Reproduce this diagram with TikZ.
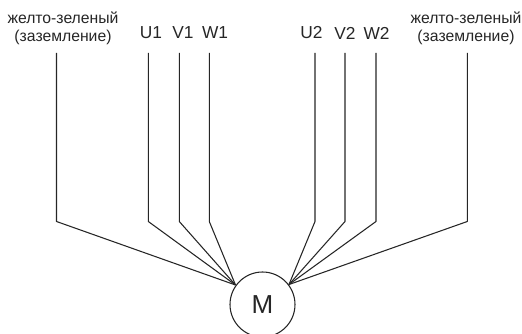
\documentclass[tikz,border=0pt]{standalone}
\usepackage{fontspec}
\setmainfont{Liberation Sans}
\tikzset{
  wire/.style={draw=black!85,line width=0.8pt,line join=round},
  lab/.style={text=black!85,font=\fontsize{11.8}{13.8}\selectfont,inner sep=0pt,align=center},
  lab2/.style={text=black!85,font=\fontsize{13}{15}\selectfont,inner sep=0pt},
  motor/.style={circle,draw=black!85,line width=0.8pt,minimum size=48.75pt,inner sep=0pt,text=black!85,font=\fontsize{19.5}{21}\selectfont}
}
\begin{document}
\begin{tikzpicture}[x=0.75pt,y=-0.75pt]
\useasboundingbox (0,0) rectangle (522,334);
\node[motor] (m) at (262.5,304.5) {M};
\coordinate (jl) at (235.5,285);
\coordinate (jr) at (289,284.5);
\node[lab] (g1) at (63,28.5) {желто-зеленый\\(заземление)};
\node[lab2] (u1) at (151,33) {U1};
\node[lab2] (v1) at (183,33) {V1};
\node[lab2] (w1) at (215,33) {W1};
\node[lab2] (u2) at (311.5,33) {U2};
\node[lab2] (v2) at (345,33) {V2};
\node[lab2] (w2) at (376.5,33) {W2};
\node[lab] (g2) at (466,28.5) {желто-зеленый\\(заземление)};
\draw[wire] (56.5,53) -- (56.5,221.5) -- (jl);
\draw[wire] (148.3,53) -- (148.3,221.5) -- (jl);
\draw[wire] (179.3,53) -- (179.3,221.5) -- (jl);
\draw[wire] (209.3,53) -- (209.3,221.5) -- (jl);
\draw[wire] (315,53) -- (315,221.5) -- (jr);
\draw[wire] (345,53) -- (345,221.5) -- (jr);
\draw[wire] (376,53) -- (376,221.5) -- (jr);
\draw[wire] (467.3,53) -- (467.3,221.5) -- (jr);
\end{tikzpicture}
\end{document}
